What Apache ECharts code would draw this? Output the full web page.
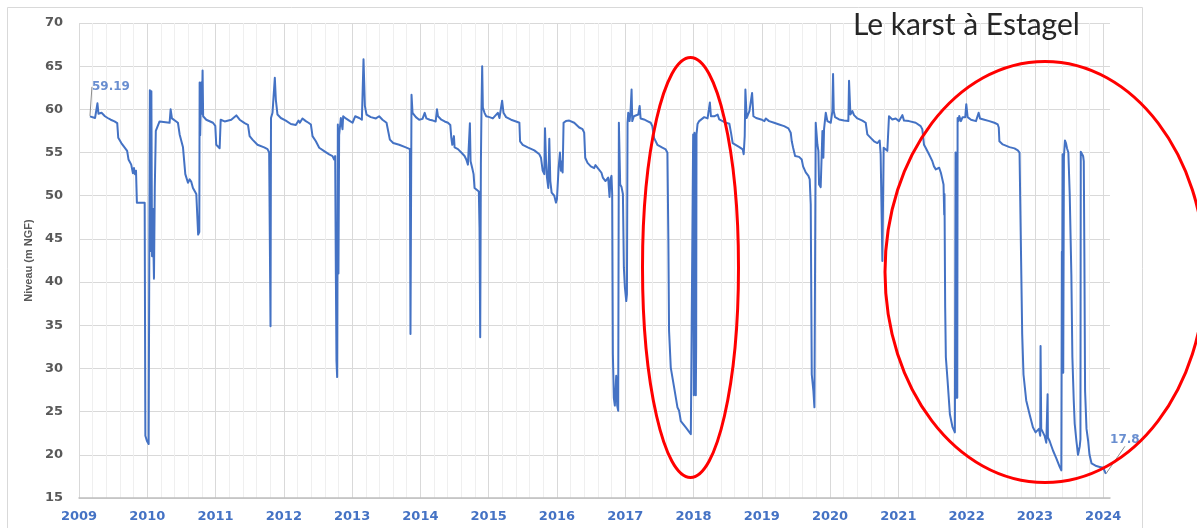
<!DOCTYPE html>
<html>
<head>
<meta charset="utf-8">
<title>Le karst à Estagel</title>
<script src="https://cdn.jsdelivr.net/npm/echarts@6/dist/echarts.min.js"></script>
<style>
  html, body { margin: 0; padding: 0; background: #fff; }
  #chart { width: 1197px; height: 528px; }
</style>
</head>
<body>
<div id="chart"></div>
<script>
// niveau du karst, [année décimale, m NGF]
const cycle2009 = [
  [2009.16, 59.19], [2009.235, 59.0], [2009.27, 60.7], [2009.285, 59.5], [2009.33, 59.6], [2009.38, 59.2],
  [2009.42, 59.0], [2009.465, 58.8], [2009.52, 58.6], [2009.56, 58.4], [2009.575, 56.7], [2009.62, 56.1],
  [2009.705, 55.2], [2009.725, 54.2], [2009.765, 53.6], [2009.79, 52.6], [2009.805, 53.2], [2009.82, 52.5],
  [2009.835, 52.9], [2009.848, 49.2], [2009.962, 49.2], [2009.972, 22.2], [2009.995, 21.6], [2010.02, 21.25],
  [2010.038, 62.2], [2010.046, 62.2], [2010.052, 43.6], [2010.06, 62.1], [2010.07, 43.0], [2010.08, 48.5],
  [2010.098, 40.4], [2010.11, 50.9], [2010.125, 57.5], [2010.18, 58.6], [2010.327, 58.45], [2010.342, 60.0],
  [2010.361, 58.95], [2010.449, 58.45], [2010.474, 57.1], [2010.523, 55.6], [2010.557, 52.5], [2010.596, 51.5],
  [2010.62, 51.9], [2010.645, 51.6], [2010.669, 50.9], [2010.718, 50.2], [2010.732, 50.0], [2010.745, 45.5],
  [2010.762, 45.8], [2010.767, 63.1], [2010.775, 57.0], [2010.79, 63.1], [2010.80, 59.5], [2010.81, 64.5],
  [2010.818, 59.2], [2010.864, 58.8], [2010.962, 58.45], [2010.996, 58.1], [2011.01, 55.9], [2011.06, 55.5],
  [2011.075, 58.8], [2011.133, 58.6], [2011.23, 58.8], [2011.304, 59.3], [2011.353, 58.8], [2011.426, 58.4],
  [2011.475, 58.2], [2011.499, 56.9], [2011.541, 56.5]
];
const cycle2011 = [
  [2011.614, 55.9], [2011.712, 55.6], [2011.761, 55.4], [2011.785, 55.0], [2011.805, 34.9], [2011.812, 59.0],
  [2011.834, 59.6], [2011.858, 59.7], [2011.868, 63.65], [2011.883, 61.1], [2011.907, 59.4], [2011.956, 59.0],
  [2012.029, 58.7], [2012.103, 58.3], [2012.176, 58.2], [2012.215, 58.7], [2012.234, 58.45], [2012.273, 58.95],
  [2012.322, 58.64], [2012.361, 58.45], [2012.396, 58.25], [2012.42, 56.9], [2012.469, 56.3], [2012.518, 55.56],
  [2012.591, 55.17], [2012.664, 54.78], [2012.713, 54.59], [2012.737, 54.2], [2012.752, 54.59], [2012.762, 40.9],
  [2012.771, 30.9], [2012.781, 29.0], [2012.791, 58.25], [2012.80, 41.0], [2012.81, 57.0], [2012.835, 59.0],
  [2012.859, 57.7], [2012.869, 59.2], [2012.908, 58.95], [2012.957, 58.7], [2013.006, 58.45], [2013.045, 59.2],
  [2013.104, 59.0], [2013.143, 58.8], [2013.167, 65.8], [2013.187, 60.4], [2013.211, 59.4], [2013.274, 59.1],
  [2013.348, 58.95], [2013.396, 59.2], [2013.445, 58.8], [2013.504, 58.45], [2013.533, 57.3], [2013.553, 56.5],
  [2013.602, 56.1], [2013.689, 55.9], [2013.787, 55.6], [2013.846, 55.4], [2013.855, 34.0], [2013.865, 33.8],
  [2013.87, 61.7], [2013.885, 59.6], [2013.934, 59.1], [2013.982, 58.8], [2014.031, 58.9]
];
const cycle2014 = [
  [2014.063, 59.6], [2014.088, 58.95], [2014.136, 58.8], [2014.185, 58.7], [2014.224, 58.6], [2014.243, 60.0],
  [2014.258, 59.2], [2014.307, 58.8], [2014.355, 58.6], [2014.404, 58.45], [2014.438, 58.2], [2014.453, 56.7],
  [2014.467, 55.9], [2014.481, 56.0], [2014.491, 56.9], [2014.501, 55.6], [2014.55, 55.4], [2014.599, 55.0],
  [2014.647, 54.6], [2014.672, 54.2], [2014.696, 53.6], [2014.71, 53.4], [2014.725, 58.4], [2014.735, 54.0],
  [2014.759, 53.2], [2014.779, 52.5], [2014.793, 50.9], [2014.818, 50.7], [2014.856, 50.5], [2014.866, 46.3],
  [2014.876, 33.6], [2014.886, 53.6], [2014.895, 60.2], [2014.905, 65.0], [2014.915, 60.2], [2014.939, 59.6],
  [2014.964, 59.2], [2015.012, 59.1], [2015.061, 58.95], [2015.134, 59.6], [2015.158, 59.0], [2015.197, 61.0],
  [2015.217, 59.6], [2015.255, 59.1], [2015.328, 58.8], [2015.401, 58.6], [2015.45, 58.45], [2015.46, 56.3],
  [2015.499, 55.9], [2015.572, 55.6], [2015.669, 55.25], [2015.742, 54.8], [2015.766, 54.4], [2015.791, 52.9],
  [2015.815, 52.5], [2015.825, 57.8], [2015.839, 54.2], [2015.854, 52.1], [2015.873, 50.9], [2015.888, 56.6],
  [2015.903, 51.7], [2015.922, 50.35], [2015.961, 50.0], [2015.985, 49.2], [2016.0, 49.6], [2016.024, 53.2],
  [2016.044, 55.0], [2016.058, 52.9], [2016.073, 54.0], [2016.083, 52.7], [2016.097, 58.45], [2016.131, 58.64],
  [2016.18, 58.7], [2016.204, 58.83], [2016.253, 58.45], [2016.326, 57.9], [2016.375, 57.7], [2016.399, 57.3],
  [2016.414, 54.4], [2016.448, 53.8], [2016.496, 53.4], [2016.545, 53.2]
];
const cycle2016 = [
  [2016.564, 53.55], [2016.613, 53.05], [2016.652, 52.66], [2016.672, 52.1], [2016.711, 51.7], [2016.735, 51.5],
  [2016.75, 52.1], [2016.77, 49.85], [2016.784, 51.9], [2016.799, 52.3], [2016.809, 50.2], [2016.819, 31.65],
  [2016.833, 26.6], [2016.848, 25.7], [2016.868, 29.15], [2016.882, 25.7], [2016.897, 25.1], [2016.907, 58.45],
  [2016.917, 58.25], [2016.926, 51.3], [2016.946, 51.0], [2016.966, 50.2], [2016.98, 41.7], [2016.995, 39.4],
  [2017.015, 37.8], [2017.025, 38.6], [2017.034, 58.45], [2017.044, 59.6], [2017.064, 58.64], [2017.078, 59.8],
  [2017.093, 62.3], [2017.103, 58.64], [2017.127, 59.2], [2017.152, 59.0], [2017.191, 59.4], [2017.211, 60.4],
  [2017.225, 58.95], [2017.275, 58.83], [2017.324, 58.64], [2017.373, 58.45], [2017.397, 58.06], [2017.422, 56.7],
  [2017.471, 55.9], [2017.544, 55.56], [2017.593, 55.36], [2017.618, 54.98], [2017.632, 44.8], [2017.642, 34.35],
  [2017.667, 30.1], [2017.716, 27.8], [2017.765, 25.5], [2017.789, 25.1], [2017.814, 23.9], [2017.887, 23.17],
  [2017.961, 22.4], [2017.985, 22.2], [2017.995, 57.1], [2018.005, 26.9], [2018.015, 57.3], [2018.025, 50.5],
  [2018.034, 26.9], [2018.039, 32.7], [2018.044, 57.1], [2018.059, 58.3], [2018.083, 58.64], [2018.108, 58.83],
  [2018.157, 59.1], [2018.206, 58.95], [2018.24, 60.8], [2018.255, 59.2], [2018.304, 59.2], [2018.328, 59.0],
  [2018.353, 59.4], [2018.377, 58.83], [2018.426, 58.64], [2018.475, 58.45], [2018.525, 58.33], [2018.549, 57.3],
  [2018.574, 56.1], [2018.623, 55.86], [2018.672, 55.63], [2018.721, 55.36], [2018.735, 54.8], [2018.75, 56.9],
  [2018.76, 62.3], [2018.779, 59.0], [2018.819, 59.8], [2018.858, 61.9], [2018.877, 59.2], [2018.917, 59.0],
  [2018.99, 58.83], [2019.039, 58.64]
];
const cycle2019 = [
  [2019.059, 58.95], [2019.107, 58.64], [2019.18, 58.45], [2019.254, 58.25], [2019.327, 58.06], [2019.39, 57.8],
  [2019.424, 57.3], [2019.439, 56.3], [2019.459, 55.56], [2019.488, 54.6], [2019.546, 54.5], [2019.585, 54.2],
  [2019.605, 53.4], [2019.644, 52.7], [2019.683, 52.3], [2019.702, 51.9], [2019.717, 49.0], [2019.732, 29.3],
  [2019.756, 27.4], [2019.771, 25.5], [2019.78, 25.7], [2019.79, 58.45], [2019.815, 55.9], [2019.829, 55.2],
  [2019.839, 51.3], [2019.863, 51.0], [2019.878, 50.9], [2019.888, 57.5], [2019.902, 54.4], [2019.912, 57.7],
  [2019.927, 58.83], [2019.937, 59.6], [2019.961, 58.64], [2020.01, 58.45], [2020.034, 59.8], [2020.044, 64.1],
  [2020.054, 59.8], [2020.073, 59.1], [2020.132, 58.83], [2020.205, 58.7], [2020.268, 58.64], [2020.278, 63.3],
  [2020.298, 59.4], [2020.327, 59.8], [2020.351, 59.33], [2020.4, 58.95], [2020.473, 58.7], [2020.522, 58.45],
  [2020.546, 57.1], [2020.595, 56.7], [2020.644, 56.3], [2020.693, 56.1], [2020.727, 56.4], [2020.741, 54.8],
  [2020.756, 54.6], [2020.766, 42.45], [2020.776, 42.45], [2020.785, 55.56], [2020.805, 55.56], [2020.839, 55.2],
  [2020.863, 59.2], [2020.912, 58.83], [2020.961, 58.95], [2021.01, 58.64], [2021.059, 59.33], [2021.083, 58.7],
  [2021.156, 58.64], [2021.254, 58.45], [2021.327, 58.06], [2021.351, 57.7], [2021.376, 55.9], [2021.4, 55.56],
  [2021.449, 54.8], [2021.498, 54.0], [2021.522, 53.4]
];
const cycle2021 = [
  [2021.549, 53.05], [2021.598, 53.24], [2021.623, 52.66], [2021.647, 52.86], [2021.662, 51.3], [2021.672, 47.8],
  [2021.676, 50.2], [2021.686, 37.05], [2021.696, 31.3], [2021.721, 28.6], [2021.755, 24.7], [2021.794, 23.2],
  [2021.828, 22.6], [2021.838, 55.0], [2021.848, 26.6], [2021.853, 55.0], [2021.863, 26.6], [2021.868, 59.0],
  [2021.882, 58.64], [2021.892, 59.22], [2021.917, 58.64], [2021.941, 59.1], [2021.966, 59.22], [2021.98, 59.1],
  [2021.995, 60.6], [2022.015, 59.1], [2022.064, 58.8], [2022.137, 58.64], [2022.176, 59.6], [2022.196, 58.95],
  [2022.26, 58.8], [2022.333, 58.64], [2022.407, 58.45], [2022.456, 58.25], [2022.471, 57.9], [2022.48, 56.3],
  [2022.529, 55.94], [2022.627, 55.63], [2022.701, 55.48], [2022.75, 55.25], [2022.775, 55.0], [2022.799, 54.8],
  [2022.814, 34.0], [2022.833, 29.3], [2022.873, 26.3], [2022.922, 24.7], [2022.971, 23.2], [2023.01, 22.6],
  [2023.029, 22.4], [2023.059, 23.0], [2023.078, 22.2], [2023.083, 32.6], [2023.093, 23.0], [2023.118, 22.6],
  [2023.142, 22.2], [2023.167, 21.4], [2023.186, 27.0], [2023.191, 22.0], [2023.216, 21.6], [2023.24, 21.05],
  [2023.265, 20.5], [2023.314, 19.6], [2023.363, 18.6], [2023.387, 18.2], [2023.395, 43.5], [2023.40, 39.0],
  [2023.405, 54.8], [2023.415, 29.5], [2023.425, 54.5], [2023.44, 56.4], [2023.455, 56.1], [2023.47, 55.5],
  [2023.49, 55.0], [2023.51, 50.2], [2023.534, 40.9], [2023.549, 31.3], [2023.569, 26.3], [2023.583, 23.6],
  [2023.608, 21.6], [2023.632, 20.0], [2023.657, 21.0], [2023.667, 21.8], [2023.672, 55.1], [2023.686, 55.3],
  [2023.696, 55.0], [2023.706, 54.6], [2023.716, 54.0], [2023.725, 42.8], [2023.735, 27.4], [2023.756, 23.0],
  [2023.78, 21.6], [2023.80, 20.0], [2023.83, 19.0], [2023.853, 18.8], [2023.90, 18.7], [2023.95, 18.6],
  [2024.0, 18.5], [2024.04, 17.8]
];

const yearMin = 2009;
const yearMax = 2024;
const levelTicks = [15, 70, 5]; // min, max, pas

const niveau = [].concat(cycle2009, cycle2011, cycle2014, cycle2016, cycle2019, cycle2021);
const first = niveau[0];
const last = niveau[niveau.length - 1];

const blue = '#4472C4';
const gridGrey = '#d9d9d9';

const chart = echarts.init(document.getElementById('chart'), null, { renderer: 'canvas' });

chart.setOption({
  animation: false,
  backgroundColor: '#fff',
  title: {
    text: 'Le karst à Estagel',
    left: 848,
    top: 5,
    textStyle: { fontFamily: 'Lato', fontSize: 30, fontWeight: 'normal', color: '#262626' }
  },
  grid: { left: 79, top: 23, width: 1031, height: 475 },
  xAxis: [
    {
      // lignes secondaires (5 par an)
      type: 'value',
      position: 'bottom',
      min: yearMin,
      max: yearMax + 0.1,
      interval: 0.2,
      z: 0,
      axisLine: { show: false },
      axisTick: { show: false },
      axisLabel: { show: false },
      splitLine: { show: true, showMaxLine: false, lineStyle: { color: '#efefef', width: 1 } }
    },
    {
      type: 'value',
      position: 'bottom',
      min: yearMin,
      max: yearMax + 0.1,
      interval: 1,
      z: 1,
      axisLine: { show: true, onZero: false, lineStyle: { color: '#bfbfbf', width: 1.5 } },
      axisTick: { show: false },
      axisLabel: {
        margin: 12,
        color: blue,
        fontFamily: 'DejaVu Sans',
        fontWeight: 'bold',
        fontSize: 13,
        formatter: v => (Math.abs(v - Math.round(v)) < 1e-6 ? String(Math.round(v)) : '')
      },
      splitLine: { show: true, showMaxLine: false, lineStyle: { color: gridGrey, width: 1 } }
    }
  ],
  yAxis: {
    type: 'value',
    min: levelTicks[0],
    max: levelTicks[1],
    interval: levelTicks[2],
    name: 'Niveau (m NGF)',
    nameLocation: 'middle',
    nameGap: 40,
    nameTextStyle: { fontFamily: 'Liberation Sans', fontWeight: 'bold', fontSize: 11, color: '#595959' },
    axisLine: { show: false },
    axisTick: { show: false },
    axisLabel: { margin: 16, color: '#595959', fontFamily: 'DejaVu Sans', fontWeight: 'bold', fontSize: 13 },
    splitLine: { lineStyle: { color: gridGrey, width: 1 } }
  },
  series: [
    {
      name: 'Niveau',
      type: 'line',
      xAxisIndex: 1,
      data: niveau,
      showSymbol: false,
      symbol: 'none',
      sampling: false,
      lineStyle: { color: blue, width: 2, join: 'round' },
      z: 3
    },
    {
      name: 'étiquettes',
      type: 'scatter',
      xAxisIndex: 1,
      data: [first, last],
      symbol: 'circle',
      symbolSize: 1,
      itemStyle: { color: 'rgba(0,0,0,0)' },
      label: {
        show: true,
        position: 'inside',
        formatter: p => String(p.value[1]),
        color: blue,
        fontFamily: 'DejaVu Sans',
        fontWeight: 'bold',
        fontSize: 12,
        padding: [0, 0, 7, 0]
      },
      labelLine: { show: true, lineStyle: { color: '#8c8c8c', width: 1 } },
      labelLayout: p => (p.dataIndex === 0 ? { dx: 21, dy: -29.5 } : { dx: 19, dy: -33.5 }),
      z: 4
    }
  ],
  graphic: [
    {
      type: 'rect',
      silent: true,
      z: -1,
      shape: { x: 7.5, y: 7.5, width: 1135, height: 540 },
      style: { fill: 'none', stroke: gridGrey, lineWidth: 1 }
    },
    {
      type: 'ellipse',
      silent: true,
      z: 100,
      shape: { cx: 690.5, cy: 267.5, rx: 48, ry: 210 },
      style: { fill: 'none', stroke: '#ff0000', lineWidth: 3 }
    },
    {
      type: 'ellipse',
      silent: true,
      z: 100,
      shape: { cx: 1045, cy: 272, rx: 160, ry: 210.5 },
      style: { fill: 'none', stroke: '#ff0000', lineWidth: 3 }
    }
  ]
});
</script>
</body>
</html>
